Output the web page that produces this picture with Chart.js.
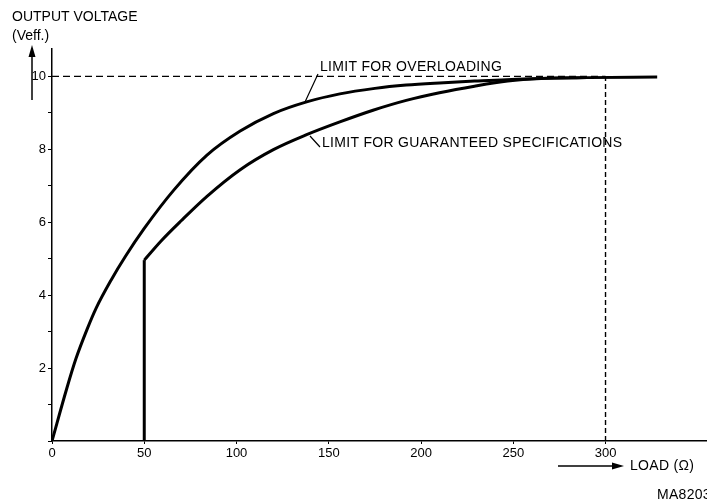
<!DOCTYPE html>
<html><head><meta charset="utf-8">
<script src="https://cdn.jsdelivr.net/npm/chart.js@4"></script>
<style>html,body{margin:0;padding:0;background:#fff}#wrap{width:707px;height:504px}</style>
</head><body><div id="wrap"><canvas id="c" width="707" height="504"></canvas></div>
<script>
// Limit for overloading (load in ohm, output voltage Veff)
const loadOverload = [0, 8, 13, 19, 24, 32, 40, 50, 66, 84, 102, 120, 138, 156, 175, 192, 210, 229, 256, 290, 328];
const voltOverload = [0, 1.44, 2.26, 3.06, 3.65, 4.41, 5.08, 5.83, 6.88, 7.84, 8.5, 8.98, 9.3, 9.52, 9.67, 9.76, 9.82, 9.87, 9.93, 9.965, 9.98];
// Limit for guaranteed specifications
const loadGuaranteed = [50, 59, 70, 84, 102, 120, 138, 156, 174, 192, 210, 229, 247, 265, 290];
const voltGuaranteed = [4.96, 5.48, 6.04, 6.71, 7.44, 7.99, 8.4, 8.75, 9.07, 9.34, 9.55, 9.73, 9.87, 9.94, 9.965];
const stepLoad = [50, 50];
const stepVolt = [0, 4.96];
const xTicks = [0, 50, 100, 150, 200, 250, 300];
const yTicks = [0, 1, 2, 3, 4, 5, 6, 7, 8, 9, 10];
const yLabelTicks = [2, 4, 6, 8, 10];
const limitLoad = 300;
const limitVolt = 10;

const pts = (xs, ys) => xs.map((x, i) => ({x, y: ys[i]}));
const FONT = "'Liberation Sans', Arial, sans-serif";

const textPlugin = {
  id: 'texts',
  afterDraw(chart) {
    const ctx = chart.ctx;
    ctx.save();
    ctx.fillStyle = '#000';
    ctx.strokeStyle = '#000';
    ctx.font = '14px ' + FONT;
    ctx.textBaseline = 'middle';
    ctx.textAlign = 'left';
    ctx.letterSpacing = '0px';
    ctx.fillText('OUTPUT VOLTAGE', 12, 17);
    ctx.fillText('(Veff.)', 12, 36);
    ctx.letterSpacing = '0.3px';
    ctx.fillText('LIMIT FOR OVERLOADING', 320, 67);
    ctx.fillText('LIMIT FOR GUARANTEED SPECIFICATIONS', 322, 143);
    ctx.fillText('LOAD (\u03A9)', 630, 466);
    ctx.fillText('MA8203', 657, 495);
    // leader lines
    ctx.lineWidth = 1.2;
    ctx.beginPath();
    ctx.moveTo(318, 74); ctx.lineTo(305, 102);
    ctx.moveTo(310, 136); ctx.lineTo(320, 147);
    ctx.stroke();
    // y arrow
    ctx.lineWidth = 1.5;
    ctx.beginPath(); ctx.moveTo(32, 100); ctx.lineTo(32, 55); ctx.stroke();
    ctx.beginPath(); ctx.moveTo(32, 45); ctx.lineTo(28.5, 57); ctx.lineTo(35.5, 57); ctx.closePath(); ctx.fill();
    // x arrow
    ctx.beginPath(); ctx.moveTo(558, 466); ctx.lineTo(614, 466); ctx.stroke();
    ctx.beginPath(); ctx.moveTo(624, 466); ctx.lineTo(612, 462.5); ctx.lineTo(612, 469.5); ctx.closePath(); ctx.fill();
    ctx.restore();
  }
};

new Chart(document.getElementById('c'), {
  type: 'scatter',
  data: {
    datasets: [
      {data: pts([0, limitLoad], [limitVolt, limitVolt]), showLine: true, borderColor: '#000', borderWidth: 1.4, borderDash: [7, 4], pointRadius: 0},
      {data: pts([limitLoad, limitLoad], [0, limitVolt]), showLine: true, borderColor: '#000', borderWidth: 1.4, borderDash: [5, 3], pointRadius: 0},
      {data: pts(loadOverload, voltOverload), showLine: true, borderColor: '#000', borderWidth: 3, pointRadius: 0, cubicInterpolationMode: 'monotone'},
      {data: pts(loadGuaranteed, voltGuaranteed), showLine: true, borderColor: '#000', borderWidth: 3, pointRadius: 0, cubicInterpolationMode: 'monotone'},
      {data: pts(stepLoad, stepVolt), showLine: true, borderColor: '#000', borderWidth: 3, pointRadius: 0}
    ]
  },
  options: {
    responsive: false,
    animation: false,
    devicePixelRatio: 1,
    layout: {padding: {top: 49, left: 0, right: 0, bottom: 0}},
    plugins: {legend: {display: false}, tooltip: {enabled: false}},
    scales: {
      x: {
        type: 'linear', min: 0, max: 355,
        afterBuildTicks: s => { s.ticks = xTicks.map(v => ({value: v})); },
        afterFit: s => { s.height = 63; },
        border: {display: true, color: '#000', width: 1.5},
        grid: {display: true, drawOnChartArea: false, drawTicks: true, tickLength: 3, color: '#000'},
        ticks: {color: '#000', font: {family: FONT, size: 13}, padding: 2, maxRotation: 0, callback: v => String(v)}
      },
      y: {
        type: 'linear', min: 0, max: 10.75,
        afterBuildTicks: s => { s.ticks = yTicks.map(v => ({value: v})); },
        afterFit: s => { s.width = 52; },
        border: {display: true, color: '#000', width: 1.5},
        grid: {display: true, drawOnChartArea: false, drawTicks: true, tickLength: 4, color: '#000'},
        ticks: {color: '#000', font: {family: FONT, size: 13}, padding: 2, callback: v => yLabelTicks.includes(v) ? String(v) : ''}
      }
    }
  },
  plugins: [textPlugin]
});
</script>
</body></html>
